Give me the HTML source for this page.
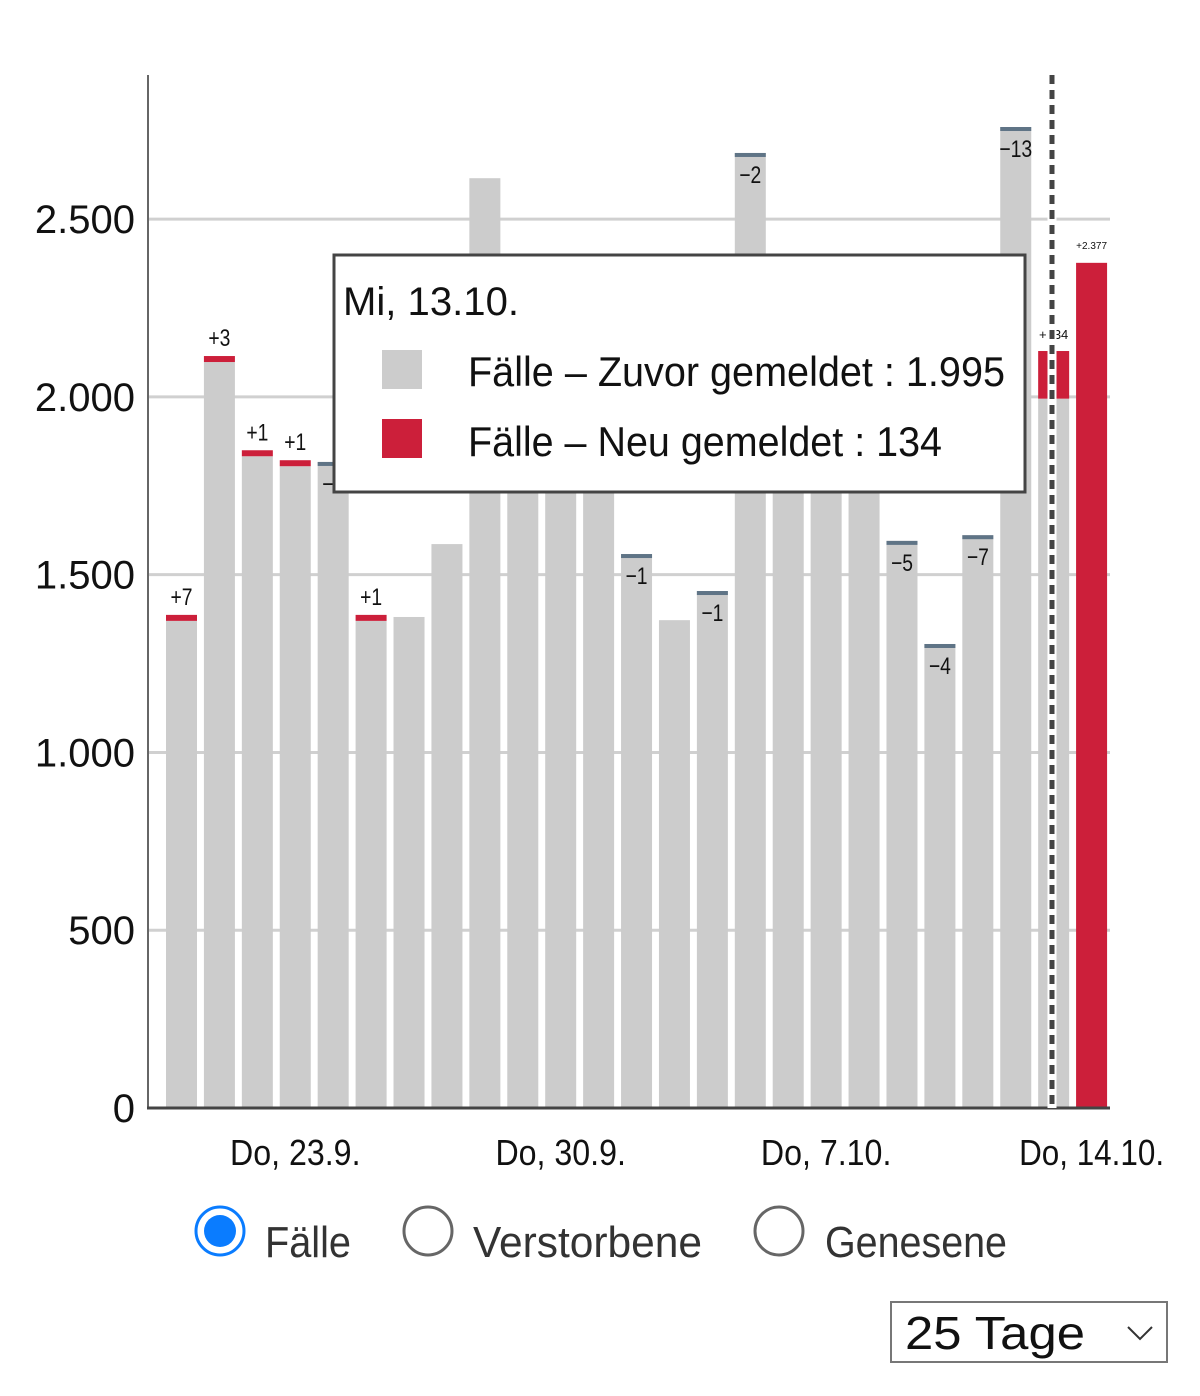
<!DOCTYPE html>
<html><head><meta charset="utf-8"><style>
body{margin:0;background:#fff;width:1200px;height:1391px;overflow:hidden;font-family:"Liberation Sans Narrow","Liberation Sans",sans-serif;}
svg text{font-family:"Liberation Sans Narrow","Liberation Sans",sans-serif;}
</style></head><body>
<svg id="chart" width="1200" height="1391" viewBox="0 0 1200 1391" xmlns="http://www.w3.org/2000/svg">
<g id="grid"></g><g id="bars"></g><g id="labels"></g><g id="axes"></g>
<g>
<rect x="334" y="255" width="691" height="237" fill="#fff" stroke="#444" stroke-width="3"/>
<text x="343" y="315" font-size="40" fill="#111" textLength="176" lengthAdjust="spacingAndGlyphs">Mi, 13.10.</text>
<rect x="382" y="350" width="40" height="39" fill="#cccccc"/>
<text x="468" y="386" font-size="42" fill="#111" textLength="537" lengthAdjust="spacingAndGlyphs">Fälle – Zuvor gemeldet : 1.995</text>
<rect x="382" y="419" width="40" height="39" fill="#cc1f3a"/>
<text x="468" y="456" font-size="42" fill="#111" textLength="474" lengthAdjust="spacingAndGlyphs">Fälle – Neu gemeldet : 134</text>
</g>
<g>
<circle cx="220" cy="1231" r="24" fill="#fff" stroke="#0a7cff" stroke-width="3"/>
<circle cx="220" cy="1231" r="16" fill="#0a7cff"/>
<text x="265" y="1257" font-size="44" fill="#333" textLength="86" lengthAdjust="spacingAndGlyphs">Fälle</text></g>
<g>
<circle cx="428" cy="1231" r="24" fill="#fff" stroke="#666" stroke-width="3"/>
<text x="473" y="1257" font-size="44" fill="#333" textLength="229" lengthAdjust="spacingAndGlyphs">Verstorbene</text></g>
<g>
<circle cx="779" cy="1231" r="24" fill="#fff" stroke="#666" stroke-width="3"/>
<text x="825" y="1257" font-size="44" fill="#333" textLength="182" lengthAdjust="spacingAndGlyphs">Genesene</text></g>
<g>
<rect x="891" y="1302" width="276" height="60" fill="#fff" stroke="#777" stroke-width="2"/>
<text x="905" y="1349" font-size="46" fill="#111" textLength="180" lengthAdjust="spacingAndGlyphs">25 Tage</text>
<polyline points="1128,1327 1140,1339 1152,1327" fill="none" stroke="#333" stroke-width="2"/>
</g>
</svg>
<script>
const prevValues=[1370,2098,1833,1805,1817,1370,1381,1586,2615,2150,2050,1980,1558,1372,1454,2686,2100,2000,1900,1595,1305,1611,2759,1995,0];
const deltaValues=[7,3,1,1,-1,1,0,0,0,0,0,0,-1,0,-1,-2,0,0,0,-5,-4,-7,-13,134,2377];
const yTicks=[0,500,1000,1500,2000,2500];
const yTickLabels=["0","500","1.000","1.500","2.000","2.500"];
const xLabelIdx=[3,10,17,24];
const xLabels=["Do, 23.9.","Do, 30.9.","Do, 7.10.","Do, 14.10."];
const NS="http://www.w3.org/2000/svg";
const y=v=>1108-v*0.35556;
const x=i=>166+i*37.92;
const BW=31;
function mk(t,a,p){const e=document.createElementNS(NS,t);for(const k in a)e.setAttribute(k,a[k]);p.appendChild(e);return e;}
const G=document.getElementById('grid'),B=document.getElementById('bars'),L=document.getElementById('labels'),A=document.getElementById('axes');
yTicks.forEach((t,i)=>{
 if(t>0){const g=mk('line',{x1:148,x2:1110,y1:y(t),y2:y(t),stroke:'#d0d0d0','stroke-width':3},G);
 
 }
 const tx=mk('text',{x:135,y:y(t)+14,'font-size':40,'text-anchor':'end',fill:'#111'},A);
 tx.textContent=yTickLabels[i];
 
 
});
prevValues.forEach((p,i)=>{
 const d=deltaValues[i];
 const g=mk('rect',{x:x(i),y:y(p),width:BW,height:1108-y(p),fill:'#cccccc'},B);
 
 
 if(d===0)return;
 let top;
 if(d>0){const h=Math.max(6,d*0.35556);top=y(p)-h;
  const r=mk('rect',{x:x(i),y:top,width:BW,height:h,fill:'#cc1f3a'},B);
  
  
 }else{top=y(p);
  const r=mk('rect',{x:x(i),y:top,width:BW,height:4,fill:'#5f7486'},B);
  
  
 }
 const lbl=(d>0?'+':'−')+Math.abs(d).toLocaleString('de-DE');
 let fs=24,ly=d>0?top-10:top+30;
 if(i===24){fs=10;ly=top-14;}
 if(i===23){fs=13;ly=top-12;}
 const t=mk('text',{x:x(i)+BW/2,y:ly,'font-size':fs,'text-anchor':'middle',fill:'#111'},L);
 t.textContent=lbl;
 if(fs===24){t.setAttribute('textLength',lbl.length*11);t.setAttribute('lengthAdjust','spacingAndGlyphs');}
 
 
});
const ya=mk('line',{x1:148,x2:148,y1:75,y2:1109,stroke:'#666','stroke-width':2},A);


const xa=mk('line',{x1:147,x2:1110,y1:1108,y2:1108,stroke:'#444','stroke-width':3},A);


const wl=mk('line',{x1:1052,x2:1052,y1:75,y2:1108,stroke:'#fff','stroke-width':9},A);


const dl=mk('line',{x1:1052,x2:1052,y1:75,y2:1108,stroke:'#444','stroke-width':5,'stroke-dasharray':'9,6'},A);


xLabelIdx.forEach((idx,k)=>{
 const t=mk('text',{x:x(idx)+BW/2,y:1165,'font-size':36,'text-anchor':'middle',fill:'#111',textLength:xLabels[k].length*14.5,lengthAdjust:'spacingAndGlyphs'},A);
 t.textContent=xLabels[k];
 
 
});
</script>
</body></html>
